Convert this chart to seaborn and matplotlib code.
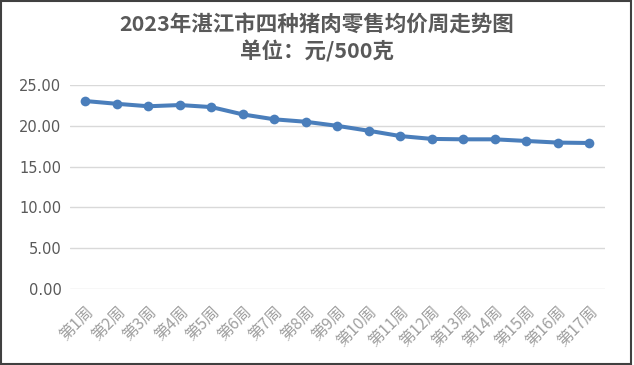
import matplotlib
matplotlib.use("Agg")
import matplotlib.pyplot as plt
import seaborn as sns
import pandas as pd
from matplotlib.patches import Rectangle

# ── data ──────────────────────────────────────────────────────────────────
weeks = [f"第{i}周" for i in range(1, 18)]
prices = [23.04, 22.70, 22.40, 22.55, 22.30, 21.40, 20.80, 20.50, 20.00,
          19.40, 18.75, 18.40, 18.35, 18.35, 18.15, 17.95, 17.90]
y_ticks = [0, 5, 10, 15, 20, 25]

title = "2023年湛江市四种猪肉零售均价周走势图\n单位：元/500克"

sns.set_theme(style="white")
plt.rcParams["font.family"] = ["Noto Sans CJK SC", "DejaVu Sans"]

df = pd.DataFrame({"week": weeks, "price": prices})

fig = plt.figure(figsize=(6.34, 3.65), dpi=100)
ax = fig.add_axes([0.11, 0.208, 0.844, 0.559])

for y in y_ticks:
    ax.axhline(y, color="#d9d9d9", linewidth=1, zorder=0)

sns.lineplot(data=df, x="week", y="price", ax=ax, sort=False,
             color="#4a7ebb", linewidth=2.9, marker="o", markersize=7,
             markeredgewidth=0)

ax.set_xlim(-0.5, len(weeks) - 0.5)
ax.set_ylim(0, 25)
ax.set_yticks(y_ticks)
ax.set_yticklabels([f"{v:.2f}" for v in y_ticks], fontsize=10.5,
                   color="#595959", family="DejaVu Sans")
ax.set_xticks(range(len(weeks)))
ax.set_xticklabels(weeks, rotation=45, ha="right", rotation_mode="anchor",
                   fontsize=11.5, color="#a0a0a0")
ax.tick_params(axis="both", length=0, pad=6)
ax.tick_params(axis="x", pad=10)
ax.set_xlabel("")
ax.set_ylabel("")
for s in ax.spines.values():
    s.set_visible(False)

fig.text(0.5, 0.895, title, ha="center", va="center", fontsize=15.5,
         fontweight="bold", color="#595959", linespacing=1.3)

# outer frame like the screenshot
fig.patches.append(Rectangle((0.002, 0.003), 0.993, 0.994,
                             transform=fig.transFigure, fill=False,
                             edgecolor="#404040", linewidth=1.5))

fig.savefig("out.png", dpi=100)
plt.close(fig)
